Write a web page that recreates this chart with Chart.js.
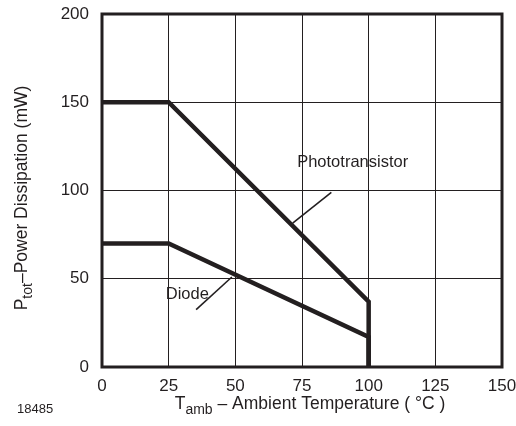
<!DOCTYPE html>
<html lang="en">
<head>
<meta charset="UTF-8">
<title>Power Dissipation vs Ambient Temperature</title>
<script src="https://cdn.jsdelivr.net/npm/chart.js"></script>
<style>
  html, body { margin: 0; padding: 0; background: #fff; }
  #wrap { width: 516px; height: 426px; }
</style>
</head>
<body>
<div id="wrap"><canvas id="chart"></canvas></div>
<script>
// derating curves (x = Tamb in °C, y = Ptot in mW)
const photoX = [0, 25, 100, 100];
const photoY = [150, 150, 37, 0];
const diodeX = [0, 25, 100, 100];
const diodeY = [70, 70, 17, 0];

// leader lines for the labels
const photoLeaderX = [86, 71.5];
const photoLeaderY = [99, 81.5];
const diodeLeaderX = [48.7, 35.3];
const diodeLeaderY = [51, 32.5];

const labelTexts = ['Phototransistor', 'Diode'];
const labelX = [94, 32];
const labelY = [116, 41];

const xTicks = [0, 25, 50, 75, 100, 125, 150];
const yTicks = [0, 50, 100, 150, 200];

function pts(xs, ys) {
  return xs.map((x, i) => ({ x: x, y: ys[i] }));
}

const FONT = 'Liberation Sans, Arial, sans-serif';

const framePlugin = {
  id: 'frame',
  afterDatasetsDraw(chart) {
    const ctx = chart.ctx;
    const a = chart.chartArea;
    ctx.save();
    ctx.strokeStyle = '#231f20';
    ctx.lineWidth = 3;
    ctx.strokeRect(a.left, a.top, a.right - a.left, a.bottom - a.top);
    ctx.restore();
  },
  afterDraw(chart) {
    const ctx = chart.ctx;
    const xs = chart.scales.x, ys = chart.scales.y;
    ctx.save();
    ctx.fillStyle = '#231f20';
    ctx.textBaseline = 'middle';
    ctx.textAlign = 'center';
    ctx.font = '16.5px ' + FONT;
    labelTexts.forEach((t, i) => {
      ctx.fillText(t, xs.getPixelForValue(labelX[i]), ys.getPixelForValue(labelY[i]));
    });

    // x axis title with subscript
    ctx.textAlign = 'left';
    ctx.textBaseline = 'alphabetic';
    const parts = [['T', 17.5, 0], ['amb', 14, 5], [' \u2013 Ambient Temperature ( \u00B0C )', 17.5, 0]];
    let w = 0;
    parts.forEach(p => { ctx.font = p[1] + 'px ' + FONT; w += ctx.measureText(p[0]).width; });
    let x = 310 - w / 2;
    parts.forEach(p => {
      ctx.font = p[1] + 'px ' + FONT;
      ctx.fillText(p[0], x, 409 + p[2]);
      x += ctx.measureText(p[0]).width;
    });

    // y axis title, rotated
    ctx.save();
    ctx.translate(27, 198);
    ctx.rotate(-Math.PI / 2);
    const yparts = [['P', 17.5, 0], ['tot', 14, 5], ['\u2013Power Dissipation (mW)', 17.5, 0]];
    w = 0;
    yparts.forEach(p => { ctx.font = p[1] + 'px ' + FONT; w += ctx.measureText(p[0]).width; });
    x = -w / 2;
    yparts.forEach(p => {
      ctx.font = p[1] + 'px ' + FONT;
      ctx.fillText(p[0], x, p[2]);
      x += ctx.measureText(p[0]).width;
    });
    ctx.restore();

    ctx.font = '13px ' + FONT;
    ctx.fillText('18485', 17, 413);
    ctx.restore();
  }
};

const lineStyle = { borderColor: '#231f20', pointRadius: 0, fill: false, tension: 0 };

new Chart(document.getElementById('chart'), {
  type: 'line',
  data: {
    datasets: [
      Object.assign({ label: 'Phototransistor', data: pts(photoX, photoY), borderWidth: 4.5, borderJoinStyle: 'miter' }, lineStyle),
      Object.assign({ label: 'Diode', data: pts(diodeX, diodeY), borderWidth: 4.5, borderJoinStyle: 'miter' }, lineStyle),
      Object.assign({ label: 'pl', data: pts(photoLeaderX, photoLeaderY), borderWidth: 1.6 }, lineStyle),
      Object.assign({ label: 'dl', data: pts(diodeLeaderX, diodeLeaderY), borderWidth: 1.6 }, lineStyle)
    ]
  },
  options: {
    responsive: true,
    maintainAspectRatio: false,
    animation: false,
    layout: { padding: { left: 0, right: 14, top: 14, bottom: 0 } },
    plugins: { legend: { display: false }, tooltip: { enabled: false } },
    scales: {
      x: {
        type: 'linear',
        min: 0, max: 150,
        afterBuildTicks: s => { s.ticks = xTicks.map(v => ({ value: v })); },
        afterFit: s => { s.height = 59; s.paddingLeft = 0; s.paddingRight = 0; },
        grid: { color: '#231f20', lineWidth: 1, drawTicks: false },
        border: { display: false },
        ticks: { color: '#231f20', font: { family: FONT, size: 17 }, padding: 9, maxRotation: 0 }
      },
      y: {
        type: 'linear',
        min: 0, max: 200,
        afterBuildTicks: s => { s.ticks = yTicks.map(v => ({ value: v })); },
        afterFit: s => { s.width = 102; s.paddingTop = 0; s.paddingBottom = 0; },
        grid: { color: '#231f20', lineWidth: 1, drawTicks: false },
        border: { display: false },
        ticks: { color: '#231f20', font: { family: FONT, size: 17 }, padding: 13 }
      }
    }
  },
  plugins: [framePlugin]
});
</script>
</body>
</html>
